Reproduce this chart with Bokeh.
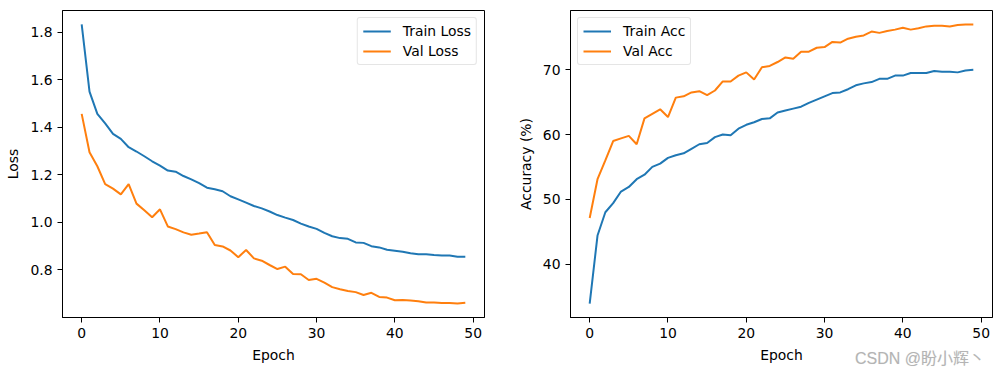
from bokeh.plotting import figure
from bokeh.layouts import row
from bokeh.models import Range1d, Legend, LegendItem, FixedTicker, PrintfTickFormatter, Div
from bokeh.embed import file_html
from bokeh.resources import INLINE

epochs = list(range(50))

train_loss = [1.832, 1.550, 1.456, 1.416, 1.372, 1.351, 1.316, 1.298, 1.278, 1.257,
              1.239, 1.218, 1.213, 1.195, 1.181, 1.165, 1.146, 1.139, 1.131, 1.110,
              1.097, 1.083, 1.069, 1.059, 1.046, 1.031, 1.020, 1.010, 0.995, 0.983,
              0.973, 0.956, 0.942, 0.934, 0.931, 0.916, 0.914, 0.900, 0.895, 0.885,
              0.881, 0.877, 0.870, 0.866, 0.866, 0.863, 0.861, 0.861, 0.856, 0.856]
val_loss = [1.456, 1.295, 1.236, 1.161, 1.142, 1.118, 1.161, 1.079, 1.051, 1.022,
            1.055, 0.983, 0.972, 0.958, 0.948, 0.953, 0.959, 0.905, 0.899, 0.882,
            0.854, 0.884, 0.849, 0.839, 0.821, 0.804, 0.814, 0.783, 0.782, 0.758,
            0.763, 0.747, 0.728, 0.719, 0.712, 0.707, 0.695, 0.704, 0.687, 0.684,
            0.673, 0.674, 0.672, 0.669, 0.663, 0.663, 0.661, 0.661, 0.659, 0.662]
train_acc = [33.9, 44.4, 48.0, 49.4, 51.2, 51.9, 53.1, 53.8, 55.0, 55.5,
             56.4, 56.8, 57.1, 57.8, 58.5, 58.7, 59.6, 60.0, 59.9, 60.9,
             61.5, 61.9, 62.4, 62.5, 63.4, 63.7, 64.0, 64.3, 64.9, 65.4,
             65.9, 66.4, 66.5, 67.0, 67.6, 67.9, 68.1, 68.6, 68.6, 69.1,
             69.1, 69.5, 69.5, 69.5, 69.8, 69.7, 69.7, 69.6, 69.9, 70.0]
val_acc = [47.1, 53.1, 56.0, 59.0, 59.4, 59.8, 58.5, 62.5, 63.2, 63.9,
           62.7, 65.7, 65.9, 66.5, 66.7, 66.1, 66.8, 68.2, 68.2, 69.1,
           69.6, 68.5, 70.4, 70.6, 71.2, 71.9, 71.7, 72.8, 72.8, 73.4,
           73.5, 74.3, 74.2, 74.8, 75.1, 75.3, 75.9, 75.7, 76.0, 76.2,
           76.5, 76.2, 76.4, 76.7, 76.8, 76.8, 76.7, 76.9, 77.0, 77.0]

x_ticks = [0, 10, 20, 30, 40, 50]
loss_ticks = [0.8, 1.0, 1.2, 1.4, 1.6, 1.8]
acc_ticks = [40, 50, 60, 70]
watermark = "CSDN @盼小辉丶"

BLUE = "#1f77b4"
ORANGE = "#ff7f0e"
FONT = "DejaVu Sans"
FS = "13.9px"


def padded(lo, hi, frac=0.05):
    d = (hi - lo) * frac
    return lo - d, hi + d


def style(p, xlabel, ylabel, yticks):
    p.xgrid.visible = False
    p.ygrid.visible = False
    p.outline_line_color = "black"
    p.outline_line_width = 1
    p.outline_line_alpha = 1
    p.xaxis.ticker = FixedTicker(ticks=x_ticks)
    p.yaxis.ticker = FixedTicker(ticks=yticks)
    for ax in (p.xaxis[0], p.yaxis[0]):
        ax.major_tick_in = 0
        ax.major_tick_out = 5
        ax.minor_tick_in = 0
        ax.minor_tick_out = 0
        ax.major_tick_line_color = "black"
        ax.axis_line_color = "black"
        ax.major_label_text_font = FONT
        ax.major_label_text_font_size = FS
        ax.major_label_text_color = "black"
        ax.major_label_standoff = 5
        ax.axis_label_text_font = FONT
        ax.axis_label_text_font_size = FS
        ax.axis_label_text_font_style = "normal"
        ax.axis_label_text_color = "black"
        ax.axis_label_standoff = 6
    p.xaxis.axis_label = xlabel
    p.yaxis.axis_label = ylabel


def add_legend(p, items, loc):
    leg = Legend(items=items, location=loc)
    leg.margin = 7
    leg.padding = 5
    leg.spacing = 4
    leg.glyph_width = 28
    leg.glyph_height = 16
    leg.label_height = 16
    leg.label_standoff = 12
    leg.label_text_font = FONT
    leg.label_text_font_size = FS
    leg.label_text_color = "black"
    leg.border_line_color = "#cccccc"
    leg.border_line_width = 1
    leg.border_radius = 3
    leg.background_fill_color = "white"
    leg.background_fill_alpha = 0.8
    p.add_layout(leg, "center")


xr = padded(0, 49)
H = 371

# Left: loss
ly = padded(min(min(train_loss), min(val_loss)), max(max(train_loss), max(val_loss)))
p1 = figure(width=494, height=H, output_backend="svg", toolbar_location=None,
            x_range=Range1d(*xr), y_range=Range1d(*ly),
            min_border_left=62, min_border_right=10, min_border_top=10, min_border_bottom=54)
r1 = p1.line(epochs, train_loss, line_color=BLUE, line_width=2)
r2 = p1.line(epochs, val_loss, line_color=ORANGE, line_width=2)
style(p1, "Epoch", "Loss", loss_ticks)
p1.yaxis.formatter = PrintfTickFormatter(format="%.1f")
add_legend(p1, [LegendItem(label="Train Loss", renderers=[r1]),
                LegendItem(label="Val Loss", renderers=[r2])], "top_right")

# Right: accuracy
ay = padded(min(min(train_acc), min(val_acc)), max(max(train_acc), max(val_acc)))
p2 = figure(width=507, height=H, output_backend="svg", toolbar_location=None,
            x_range=Range1d(*xr), y_range=Range1d(*ay),
            min_border_left=76, min_border_right=9, min_border_top=10, min_border_bottom=54)
r3 = p2.line(epochs, train_acc, line_color=BLUE, line_width=2)
r4 = p2.line(epochs, val_acc, line_color=ORANGE, line_width=2)
style(p2, "Epoch", "Accuracy (%)", acc_ticks)
add_legend(p2, [LegendItem(label="Train Acc", renderers=[r3]),
                LegendItem(label="Val Acc", renderers=[r4])], "top_left")

wm = Div(text=watermark, styles={
    "position": "absolute", "left": "850px", "top": "344px", "z-index": "10",
    "font-family": "'Liberation Sans', 'Noto Sans CJK SC', sans-serif",
    "font-size": "16px", "color": "#b4b4b4", "white-space": "nowrap",
    "text-shadow": "0 0 1px #e8e8e8", "line-height": "20px"})

layout = row(p1, p2, wm)
open("out.html", "w").write(file_html(layout, INLINE))
